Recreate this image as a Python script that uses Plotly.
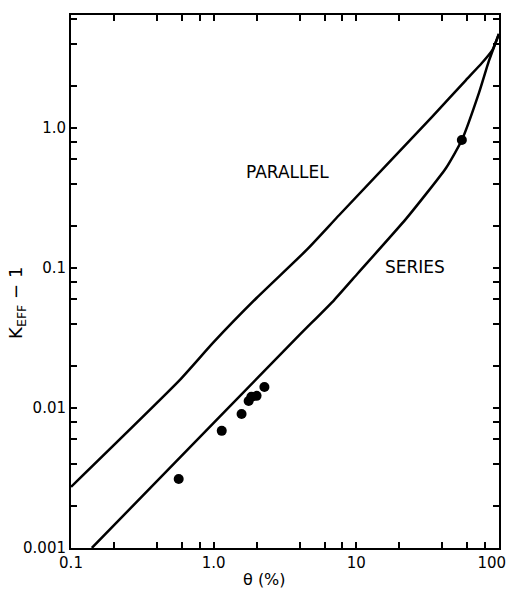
import plotly.graph_objects as go

# Data (theta in %, K_eff - 1)
parallel_theta = [0.1, 0.578, 1.0, 2.0, 4.47, 7.6, 34, 58.8, 76, 90, 100]
parallel_k = [0.00273, 0.0158, 0.0295, 0.061, 0.134, 0.239, 1.20, 2.2, 2.91, 3.6, 4.7]

series_theta = [0.14, 1.10, 4.0, 7.0, 10.3, 22.4, 42.6, 55, 72.5, 85, 100]
series_k = [0.001, 0.00863, 0.0332, 0.059, 0.092, 0.225, 0.518, 0.82, 1.78, 3.0, 4.7]

points_theta = [0.569, 1.14, 1.57, 1.76, 1.84, 2.0, 2.27, 55]
points_k = [0.00311, 0.00686, 0.00906, 0.0112, 0.0120, 0.0122, 0.0141, 0.82]

x_tickvals = [0.1, 1, 10, 100]
x_ticktext = ["0.1", "1.0", "10", "100\u00a0\u00a0\u00a0"]
y_tickvals = [0.001, 0.01, 0.1, 1]
y_ticktext = ["0.001", "0.01", "0.1", "1.0"]

x_minor = [m * d for d in [0.1, 1, 10] for m in [2, 4, 6, 8]]
y_minor = [m * d for d in [0.001, 0.01, 0.1, 1] for m in [2, 4, 6, 8]]

FONT = "DejaVu Sans"

fig = go.Figure()
fig.add_trace(go.Scatter(x=parallel_theta, y=parallel_k, mode="lines",
                         line=dict(color="black", width=2.5, shape="spline", smoothing=0.5),
                         showlegend=False, hoverinfo="skip"))
fig.add_trace(go.Scatter(x=series_theta, y=series_k, mode="lines",
                         line=dict(color="black", width=2.5, shape="spline", smoothing=0.5),
                         showlegend=False, hoverinfo="skip"))
fig.add_trace(go.Scatter(x=points_theta, y=points_k, mode="markers",
                         marker=dict(color="black", size=10),
                         showlegend=False))

axis_common = dict(
    type="log", showgrid=False, zeroline=False, automargin=False,
    showline=True, linecolor="black", linewidth=2, mirror="ticks",
    ticks="inside", ticklen=6, tickwidth=1.5, tickcolor="black",
    tickfont=dict(family=FONT, size=15, color="black"),
    ticklabeloverflow="allow",
)

fig.update_xaxes(range=[-1, 2.0008], tickmode="array", tickvals=x_tickvals, ticktext=x_ticktext,
                 minor=dict(tickmode="array", tickvals=x_minor, ticks="inside", ticklen=6,
                            tickwidth=1.5, tickcolor="black", showgrid=False),
                 **axis_common)
fig.update_yaxes(range=[-3.0005, 0.807], tickmode="array", tickvals=y_tickvals, ticktext=y_ticktext,
                 minor=dict(tickmode="array", tickvals=y_minor, ticks="inside", ticklen=6,
                            tickwidth=1.5, tickcolor="black", showgrid=False),
                 **axis_common)

def label(text, x, y, size, angle=0):
    fig.add_annotation(text=text, xref="paper", yref="paper", x=x, y=y,
                       xanchor="center", yanchor="middle", textangle=angle,
                       showarrow=False, font=dict(family=FONT, size=size, color="black"))

label("PARALLEL", 0.505, 0.705, 17)
label("SERIES", 0.804, 0.527, 17)
label("θ (%)", 0.453, -0.06, 16)
label("K<sub>EFF</sub> − 1", -0.126, 0.46, 18, angle=-90)

fig.update_layout(width=508, height=591, margin=dict(l=71, r=9, t=15, b=43),
                  paper_bgcolor="white", plot_bgcolor="white")

fig.write_html("out.html")
